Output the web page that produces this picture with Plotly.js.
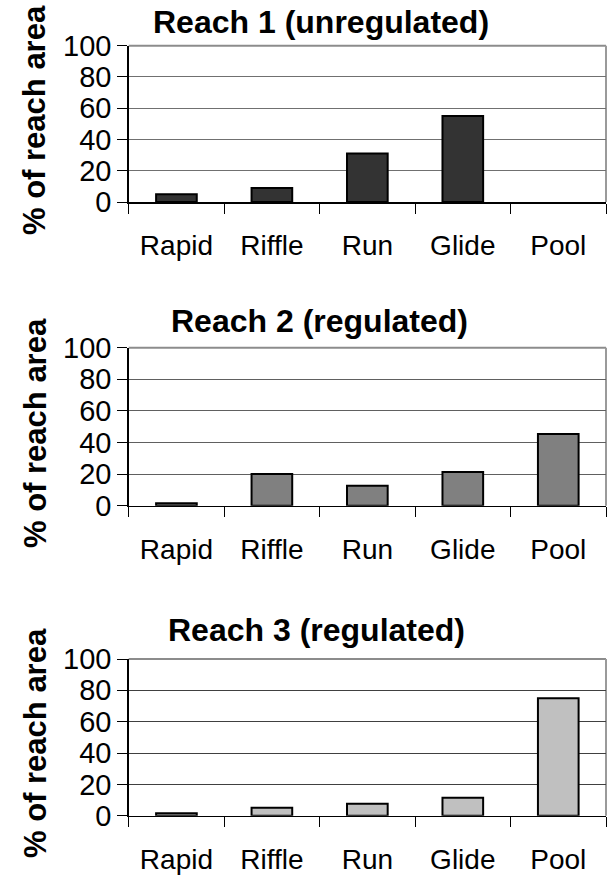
<!DOCTYPE html>
<html>
<head>
<meta charset="utf-8">
<script src="https://cdn.plot.ly/plotly-3.0.1.min.js"></script>
<style>html,body{margin:0;padding:0;background:#fff;}#chart{width:608px;height:875px;}</style>
</head>
<body>
<div id="chart"></div>
<script>
var categories = ['Rapid', 'Riffle', 'Run', 'Glide', 'Pool'];
var reach1 = [5, 9, 31, 55, 0];
var reach2 = [1.5, 20, 12.7, 21.3, 45.4];
var reach3 = [1.5, 5, 7.7, 11.5, 75];
var panelTitles = ['Reach 1 (unregulated)', 'Reach 2 (regulated)', 'Reach 3 (regulated)'];
var yTitle = '% of reach area';
var yTicks = [0, 20, 40, 60, 80, 100];

(function () {
  var W = 608, H = 875;
  var FONT = 'Liberation Sans, Arial, sans-serif';
  var series = [reach1, reach2, reach3];
  var colors = ['#333333', '#808080', '#c0c0c0'];
  var gridColors = ['#707070', '#606060', '#404040'];
  var panels = [[45.7, 202], [347.7, 505.7], [659, 815.7]];
  var titleY = [22, 321, 629.5];
  var titleX = [321, 319, 316];
  var yTitleY = [120, 433, 743];
  var leftPx = 128.7, rightPx = 606;

  var data = [];
  var layout = {
    width: W, height: H,
    margin: {l: 0, r: 0, t: 0, b: 0},
    paper_bgcolor: '#ffffff',
    plot_bgcolor: '#ffffff',
    showlegend: false,
    font: {family: FONT, color: '#000'},
    annotations: [],
    shapes: []
  };

  for (var i = 0; i < 3; i++) {
    var n = i === 0 ? '' : String(i + 1);
    data.push({
      type: 'bar',
      x: categories,
      y: series[i],
      xaxis: 'x' + n,
      yaxis: 'y' + n,
      width: 0.426,
      marker: {
        color: colors[i],
        line: {color: '#000', width: series[i].map(function (v) { return v === 0 ? 0 : 2; })}
      },
      hoverinfo: 'skip'
    });
    var pTop = panels[i][0], pBot = panels[i][1];
    layout['xaxis' + n] = {
      domain: [leftPx / W, rightPx / W],
      anchor: 'y' + n,
      type: 'category',
      showline: true, linecolor: '#000', linewidth: 1.5,
      ticks: 'outside', ticklen: 10, tickwidth: 1, tickcolor: '#000',
      tickson: 'boundaries',
      showgrid: false, zeroline: false,
      tickfont: {family: FONT, size: 28, color: '#000'},
      ticklabelstandoff: 18,
      fixedrange: true
    };
    layout['yaxis' + n] = {
      domain: [1 - pBot / H, 1 - pTop / H],
      anchor: 'x' + n,
      range: [0, 100],
      tickvals: yTicks,
      ticktext: yTicks.map(String),
      showline: true, linecolor: '#000', linewidth: 1.5,
      ticks: 'outside', ticklen: 10, tickwidth: 1, tickcolor: '#000',
      showgrid: true, gridcolor: gridColors[i], gridwidth: 1,
      zeroline: false,
      tickfont: {family: FONT, size: 29, color: '#000'},
      fixedrange: true
    };
    layout.shapes.push({
      type: 'line', xref: 'x' + n + ' domain', yref: 'y' + n + ' domain',
      x0: 0, x1: 1, y0: 1, y1: 1, line: {color: '#8c8c8c', width: 2}, layer: 'below'
    });
    layout.shapes.push({
      type: 'line', xref: 'x' + n + ' domain', yref: 'y' + n + ' domain',
      x0: 1, x1: 1, y0: 0, y1: 1, line: {color: '#9a9a9a', width: 2}, layer: 'below'
    });
    layout.annotations.push({
      text: '<b>' + panelTitles[i] + '</b>',
      xref: 'paper', yref: 'paper',
      x: titleX[i] / W, y: 1 - titleY[i] / H,
      xanchor: 'center', yanchor: 'middle',
      showarrow: false,
      font: {family: FONT, size: 32, color: '#000'}
    });
    layout.annotations.push({
      text: '<b>' + yTitle + '</b>',
      xref: 'paper', yref: 'paper',
      x: 35 / W, y: 1 - yTitleY[i] / H,
      xanchor: 'center', yanchor: 'middle',
      textangle: -90,
      showarrow: false,
      font: {family: FONT, size: 31, color: '#000'}
    });
  }

  Plotly.newPlot('chart', data, layout, {displayModeBar: false, staticPlot: true});
})();
</script>
</body>
</html>
